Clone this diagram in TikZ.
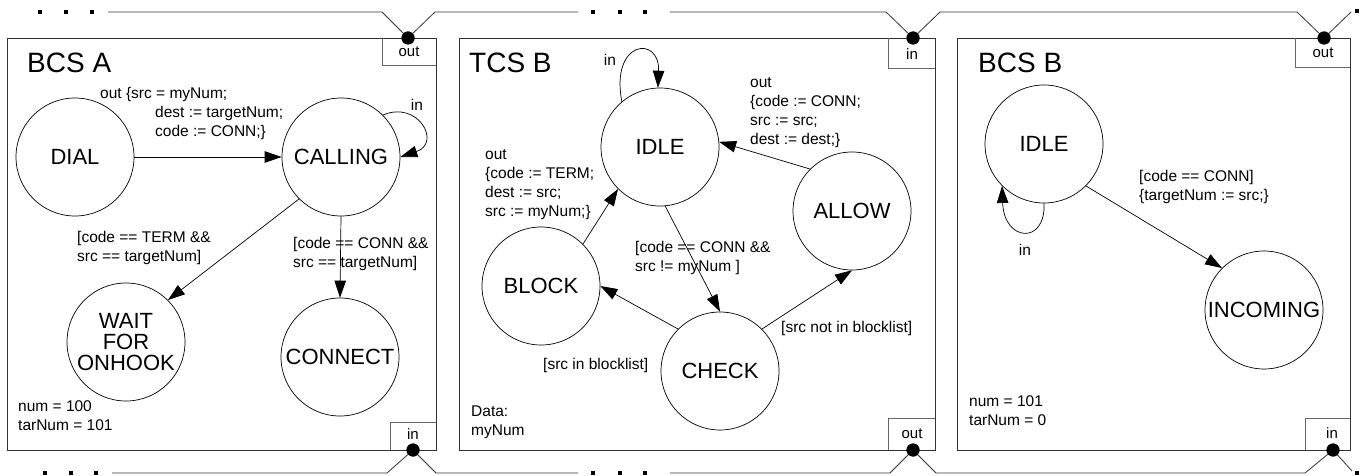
\documentclass[tikz,border=0pt]{standalone}
\usepackage{fontspec}
\setmainfont{Liberation Sans}
\usetikzlibrary{arrows.meta}
\begin{document}
\begin{tikzpicture}[x=1pt,y=-1pt,
  stnode/.style={circle,draw,line width=0.7pt,minimum size=118pt,inner sep=0pt,align=center,font=\fontsize{22}{22}\selectfont},
  lbl/.style={font=\fontsize{15.5}{19}\selectfont,align=left,inner sep=0pt,anchor=west},
  systitle/.style={font=\fontsize{28}{30}\selectfont,inner sep=0pt,anchor=west},
  sysframe/.style={draw=black!80,line width=0.9pt},
  portbox/.style={draw=black!60,line width=0.8pt},
  portlbl/.style={font=\fontsize{15}{18}\selectfont,inner sep=0pt},
  trans/.style={-{Triangle[length=17pt,width=11.5pt]},line width=0.7pt},
  wire/.style={line width=0.8pt,draw=black!80},
  portdot/.style={circle,fill=black,inner sep=0pt,minimum size=13pt},
  sqdot/.style={fill=black,inner sep=0pt,minimum size=4pt}
]
\useasboundingbox (0,0) rectangle (1372,476);

% system frames
\draw[sysframe] (7,38) rectangle (436,450);
\draw[sysframe] (459,38) rectangle (935,450);
\draw[sysframe] (957,38) rectangle (1350,450);

% port boxes
\draw[portbox] (382,38) -- (382,65) -- (436,65);
\node[portlbl] (aoutl) at (409,52) {out};
\draw[portbox] (390,450) -- (390,422) -- (436,422);
\node[portlbl] (ainl) at (413,434) {in};
\draw[portbox] (888,38) -- (888,68) -- (935,68);
\node[portlbl] (tinl) at (912,54) {in};
\draw[portbox] (888,450) -- (888,418) -- (935,418);
\node[portlbl] (toutl) at (912,434) {out};
\draw[portbox] (1295,38) -- (1295,67) -- (1350,67);
\node[portlbl] (boutl) at (1323,53) {out};
\draw[portbox] (1305,450) -- (1305,418) -- (1350,418);
\node[portlbl] (binl) at (1332,433) {in};

% port dots and wire coordinates
\node[portdot] (aout) at (408,38) {};
\node[portdot] (ain) at (413,450) {};
\node[portdot] (tin) at (913,38) {};
\node[portdot] (tout) at (913,450) {};
\node[portdot] (bout) at (1324,38) {};
\node[portdot] (bin) at (1333,450) {};

\node[sqdot] (tl1) at (40,12) {};
\node[sqdot] (tl2) at (66,12) {};
\node[sqdot] (tl3) at (92,12) {};
\node[sqdot] (tm1) at (593,12) {};
\node[sqdot] (tm2) at (620,12) {};
\node[sqdot] (tm3) at (645,12) {};
\node[sqdot] (tr1) at (1357,11) {};
\node[sqdot] (bl1) at (45,473) {};
\node[sqdot] (bl2) at (71,473) {};
\node[sqdot] (bl3) at (96,473) {};
\node[sqdot] (bm1) at (593,473) {};
\node[sqdot] (bm2) at (620,473) {};
\node[sqdot] (bm3) at (645,473) {};
\node[sqdot] (br1) at (1357,473) {};

\coordinate (w1) at (108,12);
\coordinate (w2) at (382,12);
\coordinate (w3) at (435,12);
\coordinate (w4) at (578,12);
\coordinate (w5) at (670,12);
\coordinate (w6) at (886,12);
\coordinate (w7) at (940,12);
\coordinate (w8) at (1297,12);
\coordinate (w9) at (1351,12);
\coordinate (v1) at (112,473);
\coordinate (v2) at (387,473);
\coordinate (v3) at (436,473);
\coordinate (v4) at (578,473);
\coordinate (v5) at (670,473);
\coordinate (v6) at (890,473);
\coordinate (v7) at (936,473);
\coordinate (v8) at (1305,473);
\coordinate (v9) at (1352,471);

\draw[wire] (w1) -- (w2) -- (aout.center) -- (w3) -- (w4);
\draw[wire] (w5) -- (w6) -- (tin.center) -- (w7) -- (w8) -- (bout.center) -- (w9);
\draw[wire] (v1) -- (v2) -- (ain.center) -- (v3) -- (v4);
\draw[wire] (v5) -- (v6) -- (tout.center) -- (v7) -- (v8) -- (bin.center) -- (v9);
\node[portdot] at (aout) {};
\node[portdot] at (ain) {};
\node[portdot] at (tin) {};
\node[portdot] at (tout) {};
\node[portdot] at (bout) {};
\node[portdot] at (bin) {};

% ---------- BCS A ----------
\node[systitle] (titA) at (27,63) {BCS A};
\node[stnode] (dial) at (75,157) {DIAL};
\node[stnode] (calling) at (341,157) {CALLING};
\node[stnode] (wait) at (126,342) {WAIT\\[-1pt]FOR\\[-1pt]ONHOOK};
\node[stnode] (connect) at (340,357) {CONNECT};

\draw[trans] (dial) -- (calling);
\draw[trans] (calling.north east) .. controls (418,100) and (442,143) .. (calling.east);
\draw[trans] (calling.south west) -- (wait.north east);
\draw[trans] (calling.south) -- (connect.north);

\node[lbl] (la1) at (100,113.5) {out \{src = myNum;\\\hspace*{55pt}dest := targetNum;\\\hspace*{55pt}code := CONN;\}};
\node[lbl,anchor=center] (la2) at (417,105) {in};
\node[lbl] (la3) at (77,248) {[code == TERM \&\&\\src == targetNum]};
\node[lbl] (la4) at (293,254) {[code == CONN \&\&\\src == targetNum]};
\node[lbl] (la5) at (18,415.5) {num = 100\\tarNum = 101};

% ---------- TCS B ----------
\node[systitle] (titT) at (469,63) {TCS B};
\node[stnode] (idle) at (660,147) {IDLE};
\node[stnode] (allow) at (852,211) {ALLOW};
\node[stnode] (block) at (541,286) {BLOCK};
\node[stnode] (check) at (720,371) {CHECK};

\draw[trans] (idle.130) .. controls (610,40) and (660,35) .. (idle.92);
\draw[trans] (idle.-85) -- (check.north);
\draw[trans] (check.north west) -- (block.east);
\draw[trans] (check.north east) -- (allow.south);
\draw[trans] (block.north east) -- (idle.south west);
\draw[trans] (allow.north west) -- (idle.5);

\node[lbl,anchor=center] (lt1) at (610,60) {in};
\node[lbl] (lt2) at (750,112.5) {out\\\{code := CONN;\\src := src;\\dest := dest;\}};
\node[lbl] (lt3) at (485,185) {out\\\{code := TERM;\\dest := src;\\src := myNum;\}};
\node[lbl] (lt4) at (635,257.5) {[code == CONN \&\&\\src != myNum ]};
\node[lbl] (lt5) at (543,365) {[src in blocklist]};
\node[lbl] (lt6) at (781,328) {[src not in blocklist]};
\node[lbl] (lt7) at (471,422.5) {Data:\\myNum};

% ---------- BCS B ----------
\node[systitle] (titB) at (978,63) {BCS B};
\node[stnode] (bidle) at (1044,144) {IDLE};
\node[stnode] (incoming) at (1264,310) {INCOMING};

\draw[trans] (bidle.south) .. controls (1046,245) and (1004,242) .. (bidle.south west);
\draw[trans] (bidle.south east) -- (incoming.north west);

\node[lbl,anchor=center] (lb1) at (1025,250) {in};
\node[lbl] (lb2) at (1139,186.5) {[code == CONN]\\\{targetNum := src;\}};
\node[lbl] (lb3) at (969,411) {num = 101\\tarNum = 0};
\end{tikzpicture}
\end{document}
